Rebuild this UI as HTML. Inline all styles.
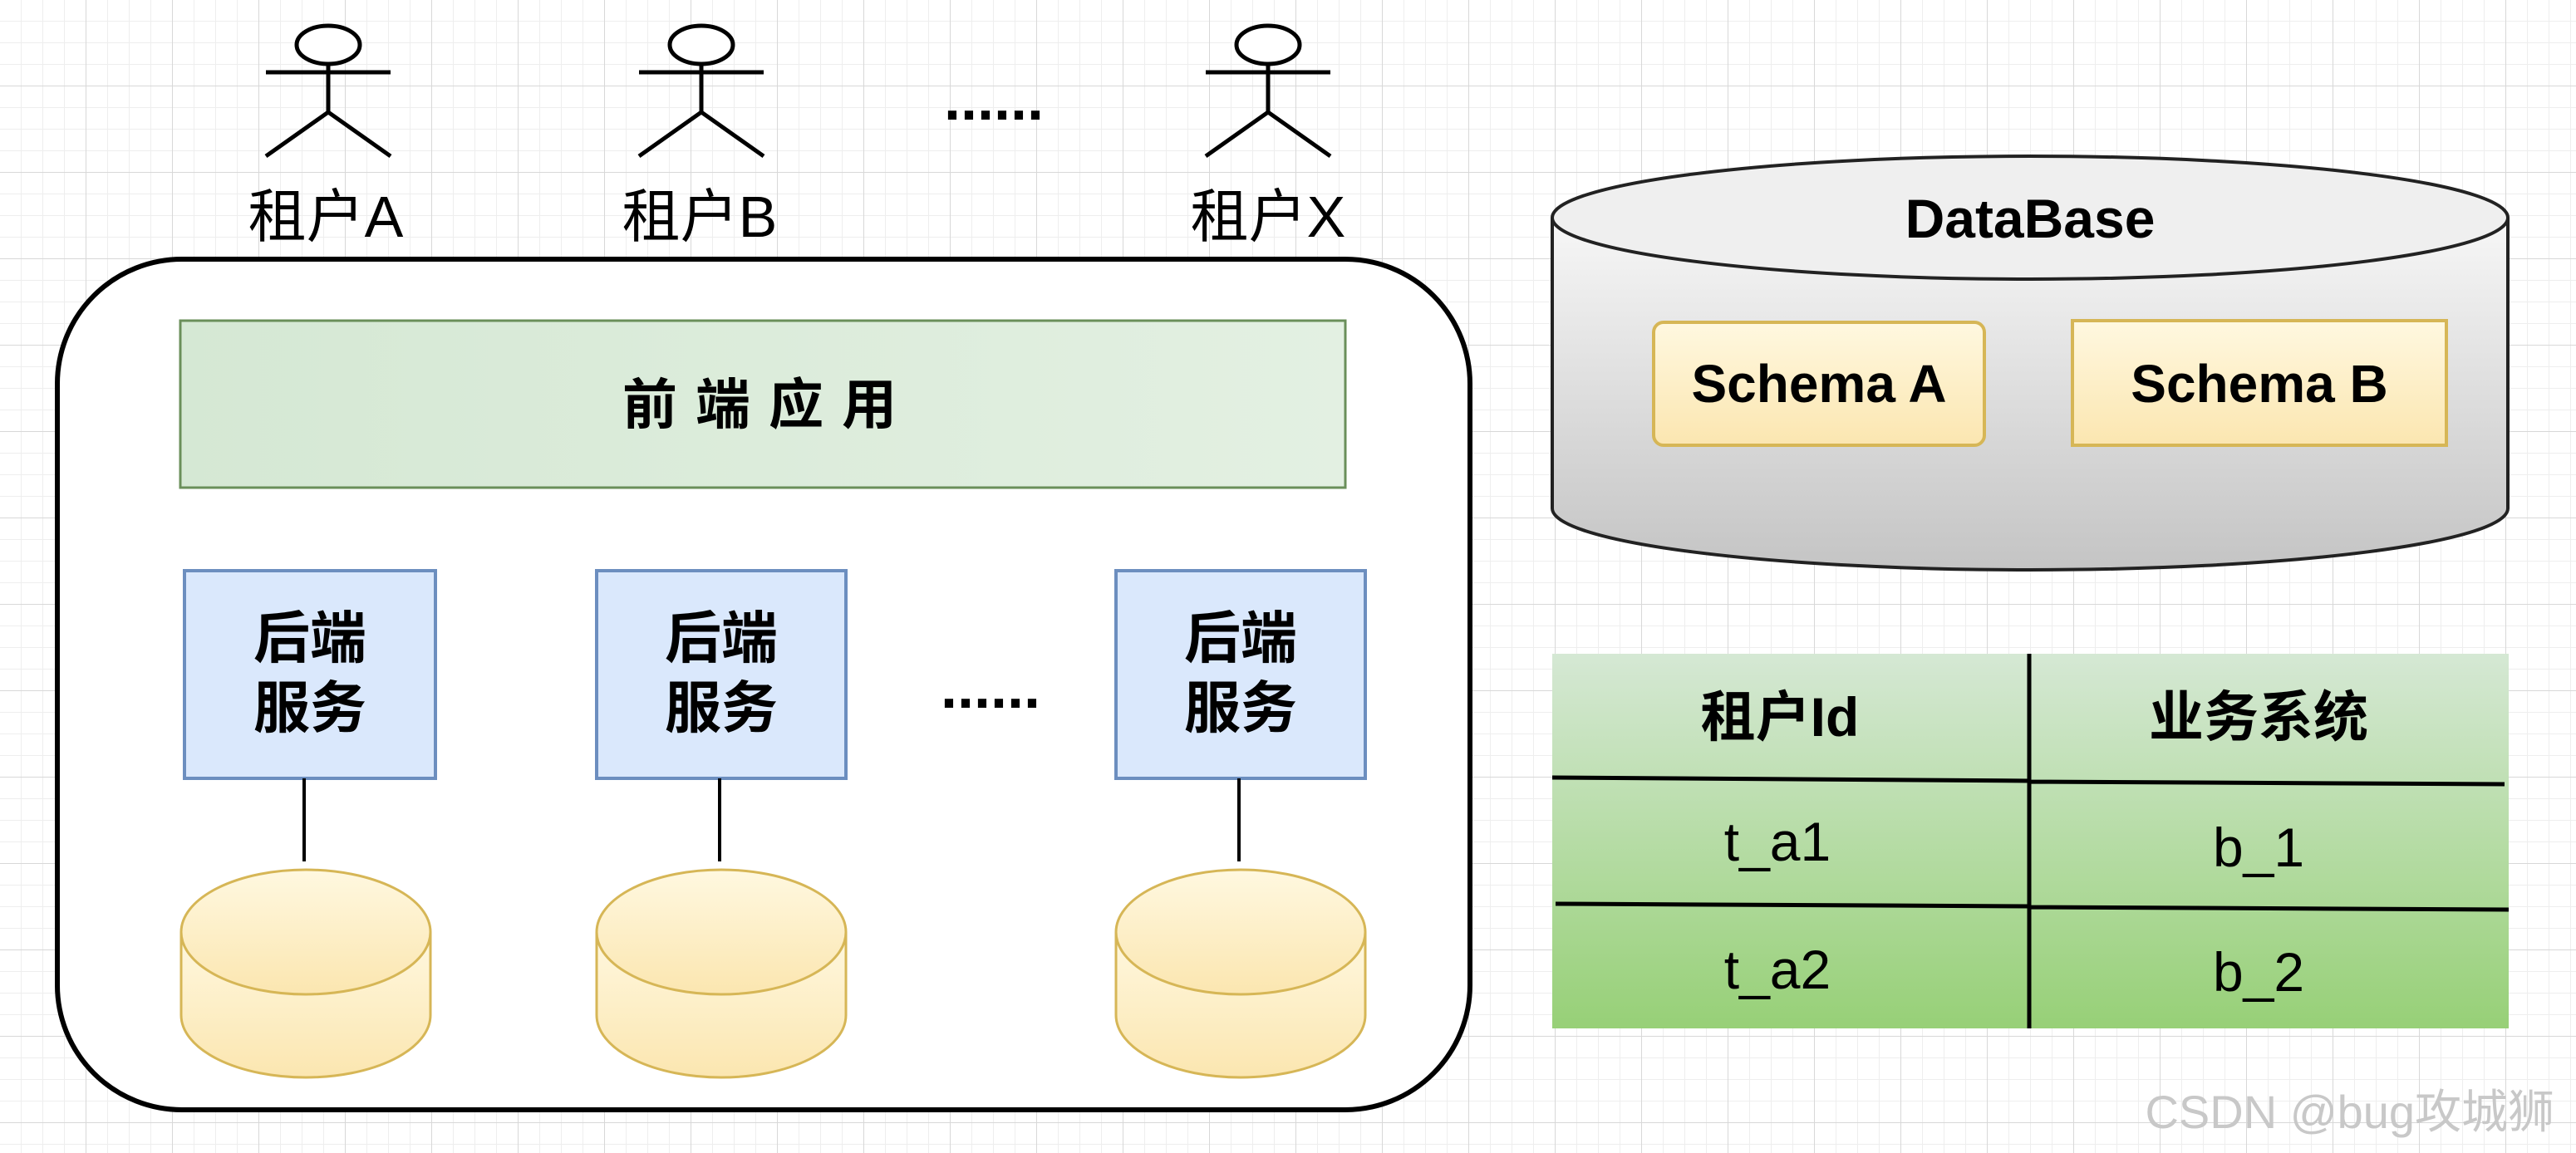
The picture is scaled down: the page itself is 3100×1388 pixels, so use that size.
<!DOCTYPE html>
<html><head><meta charset="utf-8"><style>
html,body{margin:0;padding:0;background:#fff;}
svg{display:block;}
text{font-family:"Liberation Sans","Noto Sans CJK SC",sans-serif;}
</style></head><body>
<svg width="3100" height="1388" viewBox="0 0 3100 1388" xmlns="http://www.w3.org/2000/svg">
<defs>
<pattern id="g1" width="26" height="26" patternUnits="userSpaceOnUse"><path d="M26 0V26M0 26H26" stroke="#eeeeee" stroke-width="2" fill="none"/></pattern>
<pattern id="g2" width="104" height="104" patternUnits="userSpaceOnUse"><path d="M104 0V104M0 104H104" stroke="#d8d8d8" stroke-width="2" fill="none"/></pattern>
<linearGradient id="gray" x1="0" y1="0" x2="0" y2="1"><stop offset="0" stop-color="#f7f7f7"/><stop offset="1" stop-color="#c4c4c4"/></linearGradient>
<linearGradient id="grn" x1="0" y1="0" x2="0" y2="1"><stop offset="0" stop-color="#d5e8d4"/><stop offset="1" stop-color="#97d077"/></linearGradient>
<linearGradient id="grn2" x1="0" y1="0" x2="1" y2="0"><stop offset="0" stop-color="#d5e8d4"/><stop offset="1" stop-color="#e3f0e2"/></linearGradient>
<linearGradient id="yel" x1="0" y1="0" x2="0" y2="1"><stop offset="0" stop-color="#fff8e0"/><stop offset="1" stop-color="#fbe6b0"/></linearGradient>
</defs>
<rect width="3100" height="1388" fill="#fff"/>
<rect width="3100" height="1388" fill="url(#g1)"/>
<rect width="3100" height="1388" fill="url(#g2)"/>

<g stroke="#000" stroke-width="5" fill="#fff">
<g transform="translate(395,0)"><ellipse cx="0" cy="54" rx="38" ry="23"/><path d="M-75 87H75M0 77V135M0 135L-75 188M0 135L75 188" fill="none"/></g>
<g transform="translate(844,0)"><ellipse cx="0" cy="54" rx="38" ry="23"/><path d="M-75 87H75M0 77V135M0 135L-75 188M0 135L75 188" fill="none"/></g>
<g transform="translate(1526,0)"><ellipse cx="0" cy="54" rx="38" ry="23"/><path d="M-75 87H75M0 77V135M0 135L-75 188M0 135L75 188" fill="none"/></g>
</g>
<g font-size="70" text-anchor="middle" fill="#000">
<text x="392" y="285">租户A</text>
<text x="842" y="285">租户B</text>
<text x="1526" y="285">租户X</text>
</g>
<text x="1196" y="144" font-size="72" font-weight="bold" text-anchor="middle">......</text>

<rect x="69" y="312" width="1700" height="1024" rx="150" fill="#fff" stroke="#000" stroke-width="6"/>
<rect x="217" y="386" width="1402" height="201" fill="url(#grn2)" stroke="#6a8f5a" stroke-width="3"/>
<text x="925" y="510" font-size="66" font-weight="bold" text-anchor="middle" letter-spacing="22">前端应用</text>

<g fill="#dae8fc" stroke="#6c8ebf" stroke-width="4">
<rect x="222" y="687" width="302" height="250"/>
<rect x="718" y="687" width="300" height="250"/>
<rect x="1343" y="687" width="300" height="250"/>
</g>
<g font-size="68" font-weight="bold" text-anchor="middle">
<text x="373" y="792">后端</text><text x="373" y="876">服务</text>
<text x="868" y="792">后端</text><text x="868" y="876">服务</text>
<text x="1493" y="792">后端</text><text x="1493" y="876">服务</text>
</g>
<text x="1192" y="852" font-size="72" font-weight="bold" text-anchor="middle">......</text>
<g stroke="#000" stroke-width="4">
<path d="M366 937V1037M866 937V1037M1491 937V1037"/>
</g>
<g fill="url(#yel)" stroke="#d6b656" stroke-width="3">
<g transform="translate(368,0)"><path d="M-150 1122V1222A150 75 0 0 0 150 1222V1122"/><ellipse cx="0" cy="1122" rx="150" ry="75"/></g>
<g transform="translate(868,0)"><path d="M-150 1122V1222A150 75 0 0 0 150 1222V1122"/><ellipse cx="0" cy="1122" rx="150" ry="75"/></g>
<g transform="translate(1493,0)"><path d="M-150 1122V1222A150 75 0 0 0 150 1222V1122"/><ellipse cx="0" cy="1122" rx="150" ry="75"/></g>
</g>

<path d="M1868 262V612A575 74 0 0 0 3018 612V262" fill="url(#gray)" stroke="#222" stroke-width="4"/>
<ellipse cx="2443" cy="262" rx="575" ry="74" fill="#efefef" stroke="#222" stroke-width="4"/>
<text x="2443" y="286" font-size="66" font-weight="bold" text-anchor="middle">DataBase</text>
<rect x="1990" y="388" width="398" height="148" rx="12" fill="url(#yel)" stroke="#d6b656" stroke-width="4"/>
<rect x="2494" y="386" width="450" height="150" fill="url(#yel)" stroke="#d6b656" stroke-width="4"/>
<text x="2189" y="484" font-size="64" font-weight="bold" text-anchor="middle">Schema A</text>
<text x="2719" y="484" font-size="64" font-weight="bold" text-anchor="middle">Schema B</text>

<rect x="1868" y="787" width="1151" height="451" fill="url(#grn)"/>
<g stroke="#000" stroke-width="5">
<path d="M1868 936L2442 940M2442 941L3014 944M1872 1088L2442 1091M2442 1092L3019 1095M2442 787V1238"/>
</g>
<g font-size="66" text-anchor="middle">
<text x="2142" y="886" font-weight="bold">租户Id</text>
<text x="2718" y="886" font-weight="bold">业务系统</text>
<text x="2139" y="1036">t_a1</text>
<text x="2718" y="1043">b_1</text>
<text x="2139" y="1190">t_a2</text>
<text x="2718" y="1193">b_2</text>
</g>
<text x="3074" y="1358" font-size="56" fill="#c8c8c8" text-anchor="end">CSDN @bug攻城狮</text>
</svg>
</body></html>
